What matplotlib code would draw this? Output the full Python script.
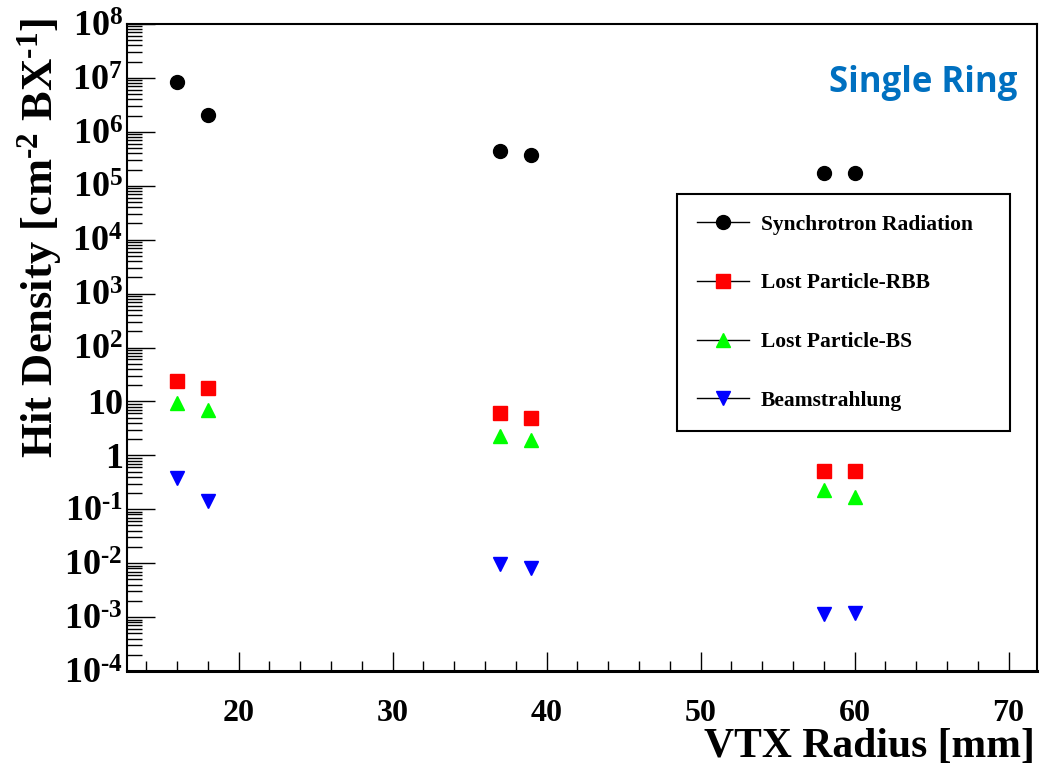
import matplotlib

matplotlib.use("Agg")
import matplotlib.pyplot as plt
from matplotlib.lines import Line2D
from matplotlib.ticker import FixedLocator, LogLocator, MultipleLocator, NullFormatter

# VTX layer radii [mm] and hit densities [cm^-2 BX^-1]
radius = [16, 18, 37, 39, 58, 60]
synchrotron = [8.4e6, 2.05e6, 4.4e5, 3.7e5, 1.75e5, 1.73e5]
lost_rbb = [24.3, 17.7, 6.1, 4.9, 0.52, 0.51]
lost_bs = [9.35, 6.9, 2.29, 1.93, 0.228, 0.171]
beamstrahlung = [0.38, 0.142, 0.0097, 0.0083, 0.00114, 0.00121]

series_labels = ["Synchrotron Radiation", "Lost Particle-RBB",
                 "Lost Particle-BS", "Beamstrahlung"]
y_tick_values = [1e-4, 1e-3, 1e-2, 1e-1, 1, 10, 1e2, 1e3, 1e4, 1e5, 1e6, 1e7, 1e8]
# ROOT draws a plain hyphen in the exponents, not a long minus sign
y_tick_labels = [r"$10^{\text{-}4}$", r"$10^{\text{-}3}$", r"$10^{\text{-}2}$",
                 r"$10^{\text{-}1}$", "1", "10", r"$10^{2}$", r"$10^{3}$",
                 r"$10^{4}$", r"$10^{5}$", r"$10^{6}$", r"$10^{7}$", r"$10^{8}$"]

SERIES_STYLE = [
    (synchrotron, "black", "o"),
    (lost_rbb, "#ff0000", "s"),
    (lost_bs, "#00ff00", "^"),
    (beamstrahlung, "#0000ff", "v"),
]

plt.rcParams["font.family"] = ["Liberation Serif", "DejaVu Serif"]
plt.rcParams["font.weight"] = "bold"
plt.rcParams["mathtext.fontset"] = "custom"
plt.rcParams["mathtext.rm"] = "Liberation Serif:bold"
plt.rcParams["mathtext.it"] = "Liberation Serif:bold"
plt.rcParams["mathtext.bf"] = "Liberation Serif:bold"
plt.rcParams["mathtext.default"] = "rm"

fig = plt.figure(figsize=(10.42, 7.65), dpi=100)
ax = fig.add_axes([127 / 1042, 1 - 671 / 765, 910 / 1042, 647 / 765])

handles = []
for values, color, marker in SERIES_STYLE:
    ax.plot(radius, values, linestyle="none", marker=marker, markersize=10,
            markerfacecolor=color, markeredgecolor=color, color=color)
    handles.append(Line2D([], [], color="black", linewidth=1.0, marker=marker,
                          markersize=10, markerfacecolor=color,
                          markeredgecolor=color))

ax.set_yscale("log")
ax.set_xlim(12.75, 71.85)
ax.set_ylim(1e-4, 1e8)

ax.xaxis.set_major_locator(MultipleLocator(10))
ax.xaxis.set_minor_locator(MultipleLocator(2))
ax.yaxis.set_major_locator(FixedLocator(y_tick_values))
ax.yaxis.set_minor_locator(LogLocator(base=10, subs=range(2, 10), numticks=50))
ax.yaxis.set_minor_formatter(NullFormatter())
ax.set_yticks(y_tick_values, y_tick_labels)

ax.tick_params(axis="both", which="both", direction="in", top=False, right=False,
               color="black", width=1.0)
ax.tick_params(axis="x", which="major", length=14, pad=20, labelsize=23)
ax.tick_params(axis="x", which="minor", length=7)
ax.tick_params(axis="y", which="major", length=20, pad=3, labelsize=26)
ax.tick_params(axis="y", which="minor", length=11)
for side in ("left", "right", "top"):
    ax.spines[side].set_linewidth(1.5)
ax.spines["bottom"].set_linewidth(2.2)

fig.text(1035 / 1042, 1 - 757 / 765, "VTX Radius [mm]", ha="right", va="baseline",
         fontsize=30, fontweight="bold")
fig.text(40 / 1042, 1 - 18 / 765,
         r"Hit Density [cm$^{\text{-}2}$ BX$^{\text{-}1}$]", rotation=90,
         ha="center", va="top", fontsize=32, fontweight="bold")

fig.text(1017 / 1042, 1 - 92 / 765, "Single Ring", ha="right", va="baseline",
         fontsize=25, fontweight="bold", color="#0070c0",
         family=["Open Sans", "DejaVu Sans"])

leg = ax.legend(handles, series_labels, loc="upper left",
                bbox_to_anchor=(0.6044, 0.3709, 0.3659, 0.3663), mode="expand",
                borderaxespad=0, borderpad=0.95, handlelength=2.4, handletextpad=0.55,
                labelspacing=1.8, fancybox=False, shadow=False,
                prop={"family": "Liberation Serif", "weight": "bold", "size": 15.5})
leg.get_frame().set_edgecolor("black")
leg.get_frame().set_linewidth(1.5)
leg.get_frame().set_alpha(1.0)

fig.savefig("out.png", dpi=100)
